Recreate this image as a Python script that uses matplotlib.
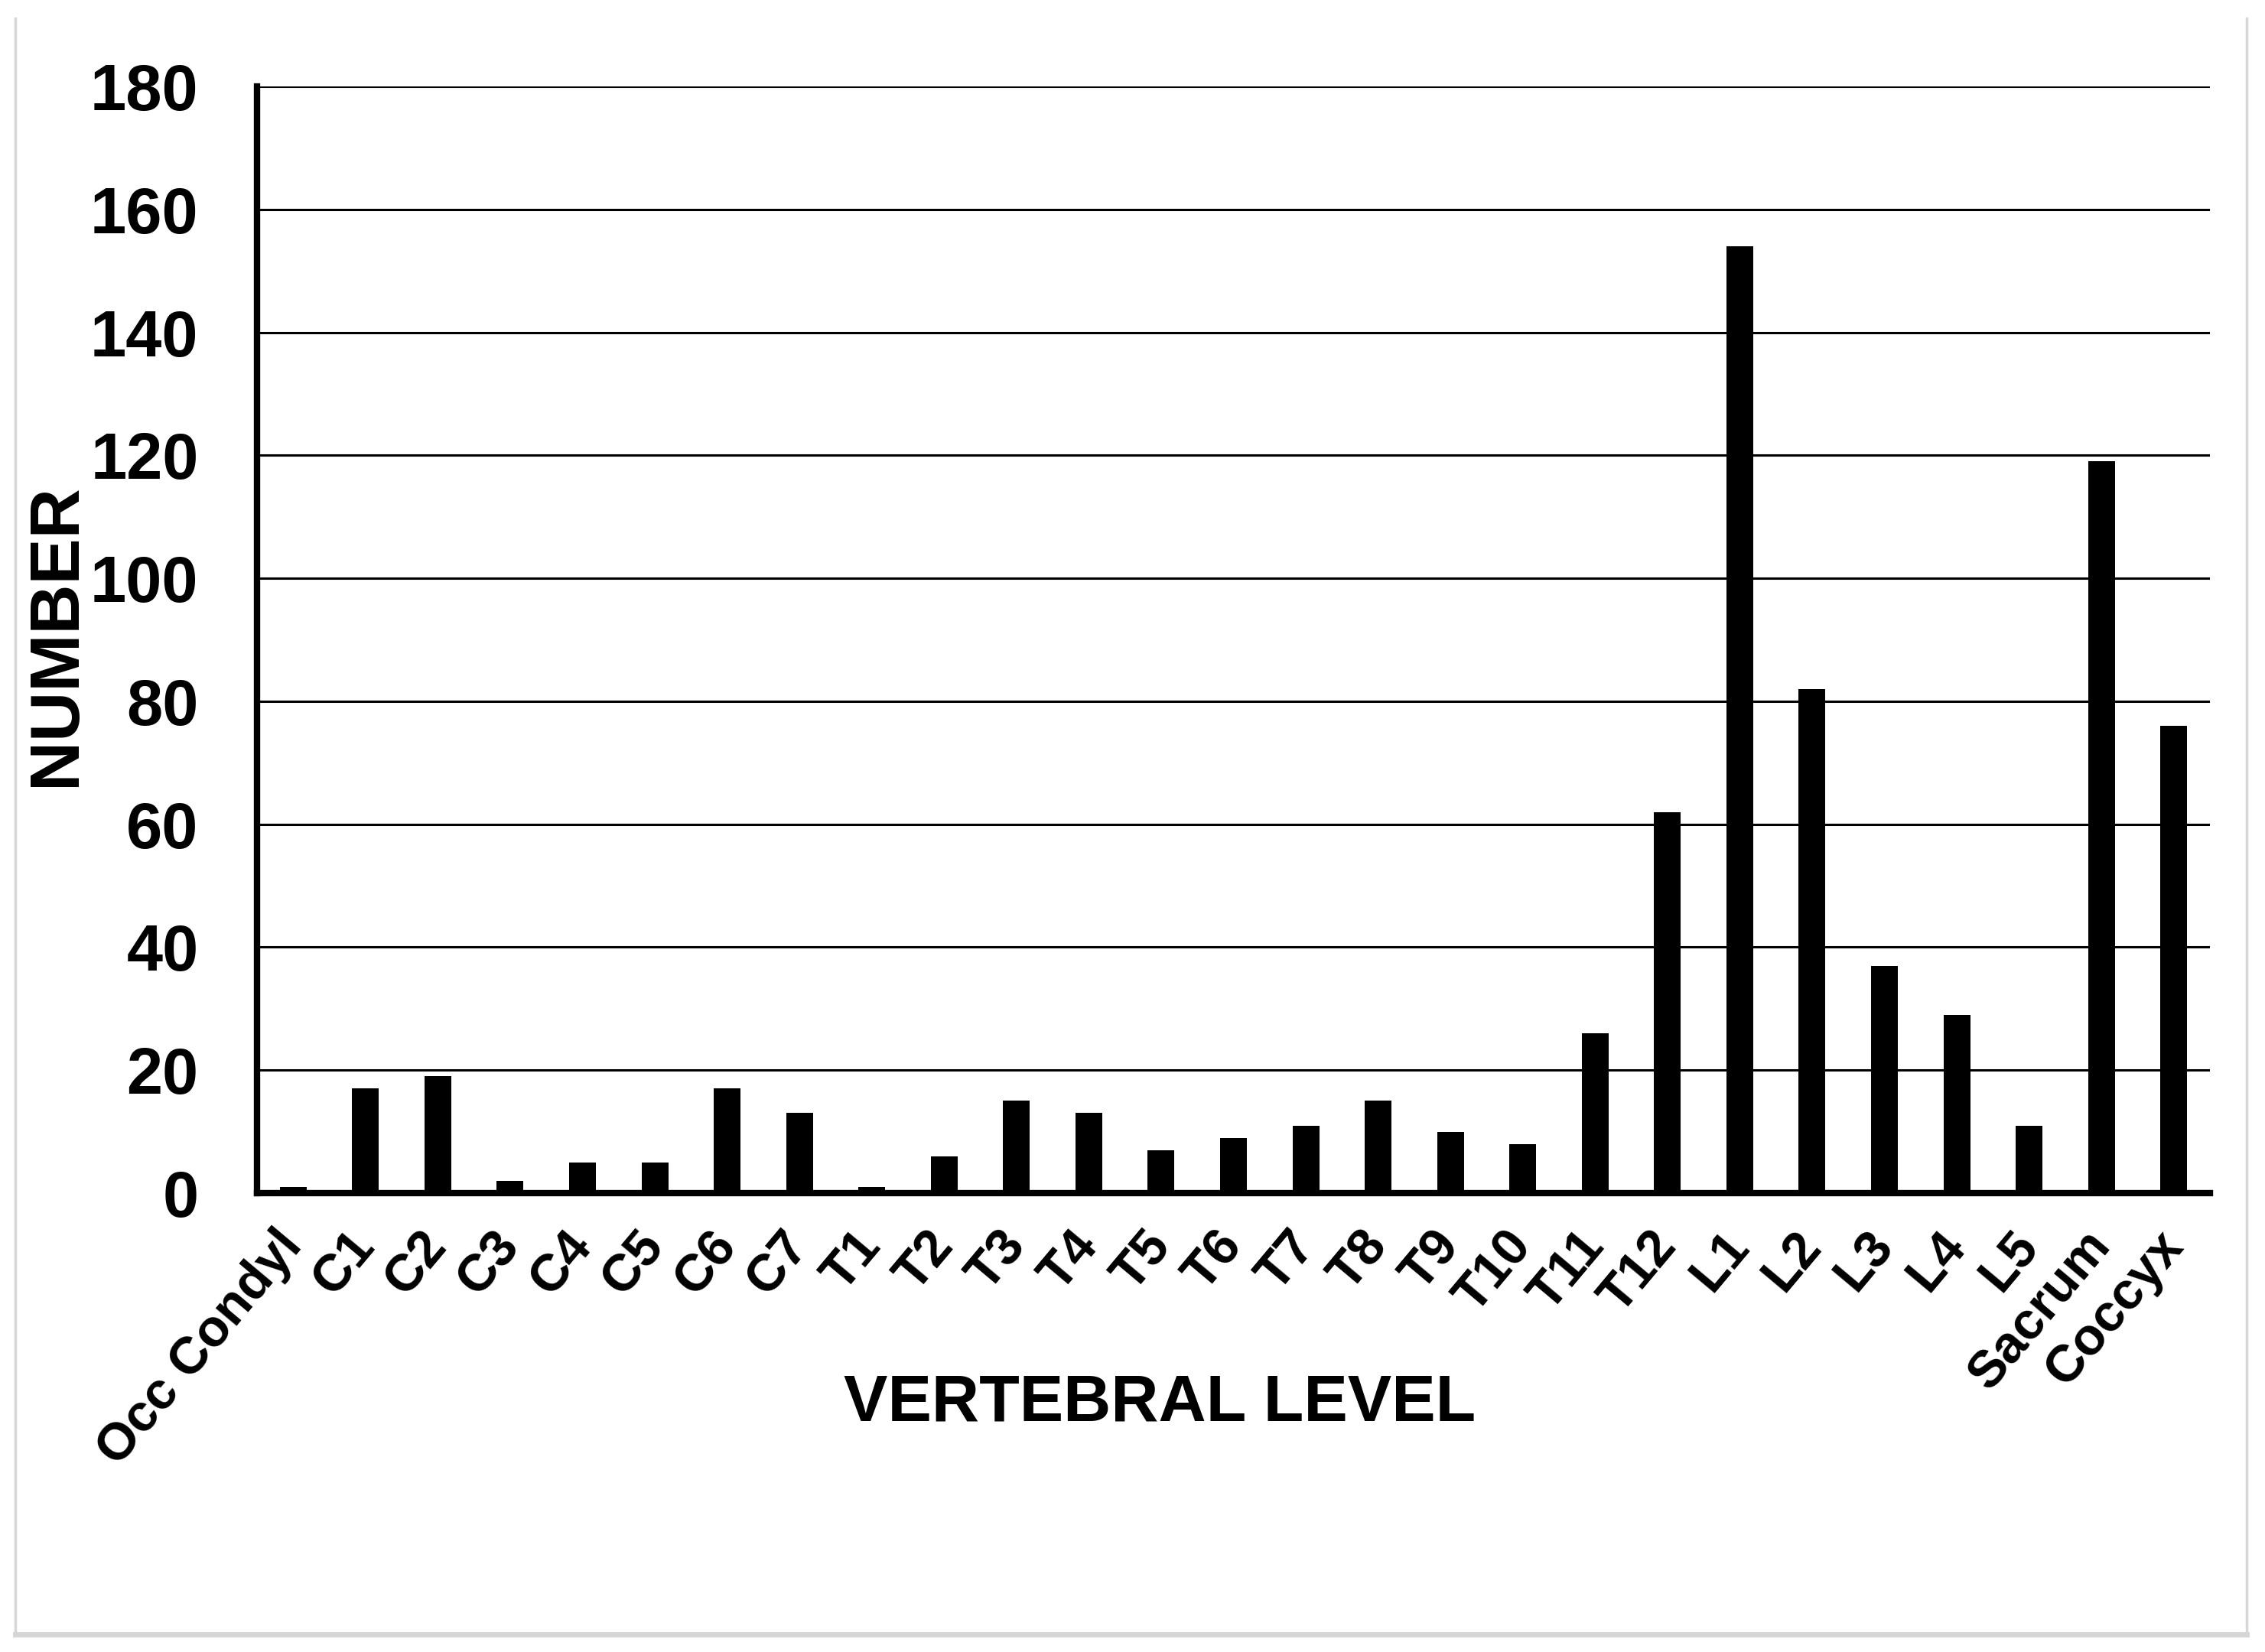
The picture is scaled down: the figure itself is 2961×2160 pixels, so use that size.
import matplotlib
matplotlib.use("Agg")
import matplotlib.pyplot as plt
from matplotlib.lines import Line2D

levels = ["Occ Condyl", "C1", "C2", "C3", "C4", "C5", "C6", "C7",
          "T1", "T2", "T3", "T4", "T5", "T6", "T7", "T8", "T9", "T10", "T11", "T12",
          "L1", "L2", "L3", "L4", "L5", "Sacrum", "Coccyx"]
counts = [1, 17, 19, 2, 5, 5, 17, 13,
          1, 6, 15, 13, 7, 9, 11, 15, 10, 8, 26, 62,
          154, 82, 37, 29, 11, 119, 76]
yticks = [0, 20, 40, 60, 80, 100, 120, 140, 160, 180]

plt.rcParams["font.family"] = ["Liberation Sans", "DejaVu Sans"]
plt.rcParams["font.weight"] = "bold"

W, H = 2961, 2160
fig = plt.figure(figsize=(W / 100, H / 100), dpi=100)
ax = fig.add_axes([336 / W, 1 - 1560 / H, (2889 - 336) / W, (1560 - 113) / H])

x = list(range(len(levels)))
ax.bar(x, counts, width=0.37, color="black", zorder=3)

ax.set_xlim(-0.5, len(levels) - 0.5)
ax.set_ylim(0, 180)
ax.set_yticks(yticks)
ax.set_yticklabels([str(v) for v in yticks], fontsize=61, fontweight="bold")
ax.set_xticks(x)
ax.set_xticklabels(levels, fontsize=49, fontweight="bold", rotation=50,
                   ha="right", va="center", rotation_mode="anchor")
ax.tick_params(axis="y", length=0, pad=55)
ax.tick_params(axis="x", length=0, pad=42)

ax.grid(axis="y", color="black", linewidth=2.2, zorder=0)
for s in ["top", "right"]:
    ax.spines[s].set_visible(False)
ax.spines["left"].set_linewidth(6)
ax.spines["bottom"].set_linewidth(6)
ax.spines["left"].set_zorder(4)
ax.spines["bottom"].set_zorder(4)

fig.text(75 / W, 1 - 830 / H, "NUMBER", fontsize=65, fontweight="bold",
         rotation=90, ha="center", va="center")
fig.text(1516 / W, 1 - 1835 / H, "VERTEBRAL LEVEL", fontsize=62, fontweight="bold",
         ha="center", va="center")

# light grey frame around the picture
frame = "#d6d6d6"
fig.add_artist(Line2D([20 / W, 20 / W], [1 - 24 / H, 1 - 2137 / H], color=frame, lw=2.5,
                      transform=fig.transFigure))
fig.add_artist(Line2D([2937 / W, 2937 / W], [1 - 24 / H, 1 - 2137 / H], color=frame, lw=2.5,
                      transform=fig.transFigure))
fig.add_artist(Line2D([20 / W, 2937 / W], [1 - 2137 / H, 1 - 2137 / H], color=frame, lw=5,
                      transform=fig.transFigure))

fig.savefig("out.png", dpi=100, facecolor="white")
